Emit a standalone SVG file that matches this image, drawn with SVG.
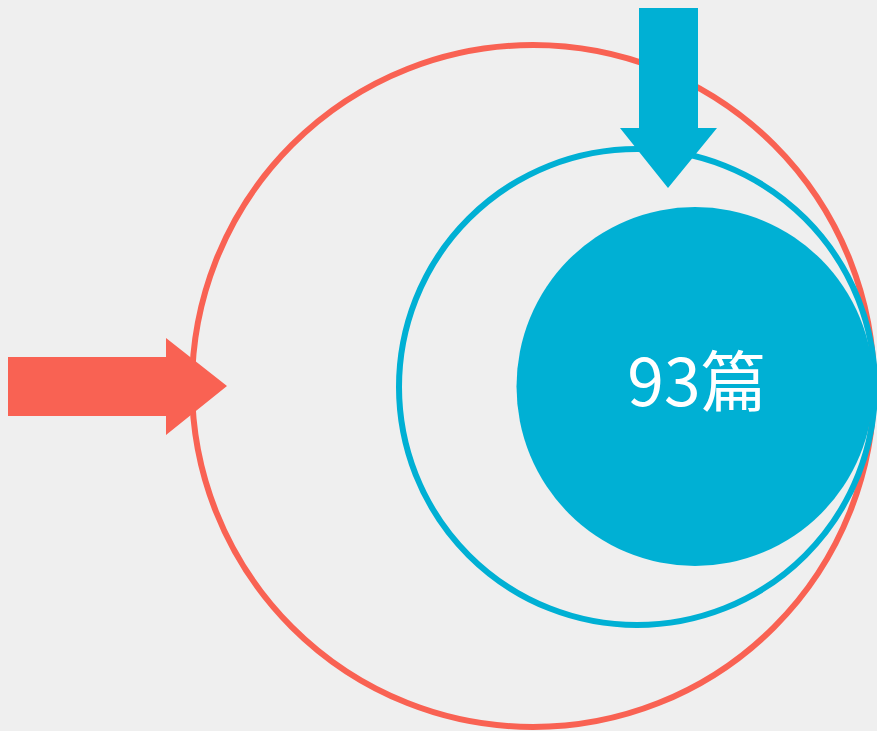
<svg xmlns="http://www.w3.org/2000/svg" width="877" height="731" viewBox="0 0 877 731">
<style>
.red{fill:none;stroke:#F96253;stroke-width:6}
.blue{fill:none;stroke:#00B0D4;stroke-width:6}
.lbl{font-family:"Noto Sans CJK SC","Noto Sans",sans-serif;font-size:66px;fill:#FFFFFF;text-anchor:middle}
</style>
<rect width="877" height="731" fill="#EFEFEF"/>
<g id="outer-circle"><circle class="red" cx="533" cy="386" r="341"/></g>
<g id="middle-circle"><circle class="blue" cx="637" cy="387" r="238"/></g>
<g id="inner-circle">
<ellipse cx="695" cy="386.5" rx="178.5" ry="179.5" fill="#00B0D4"/>
<text class="lbl" x="697" y="406">93篇</text>
</g>
<g id="connectors">
<polygon fill="#F96253" points="8,357 166,357 166,338 227,386 166,435 166,416 8,416"/>
<polygon fill="#00B0D4" points="639,8 698,8 698,128 717,128 668,188 620,128 639,128"/>
</g>
</svg>
